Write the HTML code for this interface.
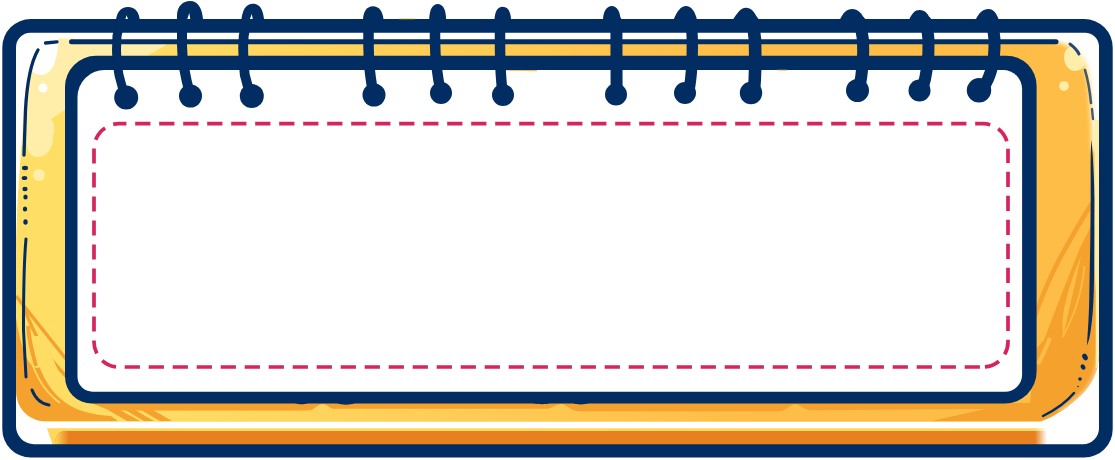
<!DOCTYPE html>
<html><head><meta charset="utf-8"><title>Notepad frame</title>
<style>
html,body{margin:0;padding:0;background:#fff;}
body{width:1115px;height:460px;overflow:hidden;font-family:"Liberation Sans",sans-serif;}
svg{display:block}
</style></head><body>
<svg width="1115" height="460" viewBox="0 0 1115 460">
<defs>
<linearGradient id="gBody" gradientUnits="userSpaceOnUse" x1="120" y1="0" x2="760" y2="0">
<stop offset="0" stop-color="#ffde66"/><stop offset="1" stop-color="#febd47"/>
</linearGradient>
<linearGradient id="gBarStart" gradientUnits="userSpaceOnUse" x1="55" y1="0" x2="69" y2="0">
<stop offset="0" stop-color="#ffd75c"/><stop offset="1" stop-color="#e8801e"/>
</linearGradient>
<linearGradient id="gBarEnd" gradientUnits="userSpaceOnUse" x1="1035" y1="0" x2="1047" y2="0">
<stop offset="0" stop-color="#fff" stop-opacity="0"/><stop offset="1" stop-color="#fff" stop-opacity="1"/>
</linearGradient>
<filter id="blur2" x="-20%" y="-20%" width="140%" height="140%"><feGaussianBlur stdDeviation="2.2"/></filter>
<clipPath id="cBody"><path d="M30,33 L1085,33 Q1099,33 1099,47 L1099,355 C1098,372 1092,384 1082,394 C1070,406 1056,416 1040,421.7 L46,421.7 C28,420.7 16,408 16,390 L16,47 Q16,33 30,33 Z"/></clipPath>
</defs>
<rect width="1115" height="460" fill="#fff"/>
<!-- body -->
<g clip-path="url(#cBody)">
<rect x="10" y="30" width="1095" height="395" fill="url(#gBody)"/>
<!-- light yellow top-left -->
<path d="M16,33 L175,33 L166,45 L147,56 L120,80 L80,109 L66,109 L51,119 C55,124 55,130 53,136 C54,148 46,157 38,157 C31,157 27,151 26.5,142 L21,146 L16,160 Z" fill="#ffeeaa"/>
<path d="M16,33 L58,33 C59,42 58,52 56,58 C54,68 48,75 41,75 C36,75 33,72 31,69 L27,80 L24,105 L21,150 L17.5,200 L16,240 Z" fill="#fff"/>
<circle cx="43" cy="88" r="4.5" fill="#fff"/>
<circle cx="39" cy="175" r="6" fill="#ffeeaa"/>
<!-- white top strip -->
<rect x="16" y="30" width="60" height="8.4" fill="#fff"/><rect x="75" y="30" width="1031" height="11" fill="#fff"/>
<!-- bottom orange band under paper -->
<path d="M60,403 H1040 V409 L985,409 L812,410.2 L795,410.5 L780,411.3 L580,411.3 L561,410 L545,408.8 L337,408.8 L322.5,409.5 L305,410.6 L60,410.6 Z" fill="#f5a12e"/>
<path d="M305,411.5 C314,411 318,404 322.5,404 C327,404 329,409 337,409.5 L337,412 L305,412 Z M543,409.5 C552,409 557,404 561,404 C566,404 570,411 580,411.5 L580,412 L543,412 Z M778,411.5 C787,411 791,404 795,404 C800,404 803,410 812,410.5 L812,412 L778,412 Z" fill="url(#gBody)"/>
<!-- bottom-left orange swoosh -->
<path d="M16,318 C18,330 20,340 24,352 C27,360 31,366 36,368 L46,366 L52,375 L58,386 L66,396 L66,404 L100,404 L104,411 L118,421 L16,421 Z" fill="#f5a12e"/>
<path d="M16,296 L66,359" fill="none" stroke="#f5a12e" stroke-width="3.5"/>
<path d="M25,310 C34,335 48,358 66,376" fill="none" stroke="#f5a12e" stroke-width="3.5"/>
<path d="M28,326 C29,340 32,352 36,366" fill="none" stroke="#f5a12e" stroke-width="4"/>
<path d="M33,336 L46,336 C51,355 57,370 65,382 C73,393 86,401 101,407 L124,416 C110,417 94,415 79,410 C61,403 49,389 41,371 C37,360 35,350 33,336 Z" fill="#ffdc63"/>
<path d="M27,345 C32,370 42,390 60,403" fill="none" stroke="#ffd75c" stroke-width="1.8"/>
<path d="M108,410 L120,410 L140,421 L127,421 Z M125,410 L135,410 L154,421 L144,421 Z M141,410 L153,410 L172,421 L160,421 Z" fill="#f5a12e"/>
<!-- right side orange swoosh -->
<path d="M1091,226 L1080,248 L1060,298 L1044,340 L1035,350 L1030,404 L1010,405 L985,409 L932,421 L1099,421 L1099,226 Z" fill="#f5a12e"/>
<path d="M1092,203 C1080,222 1070,240 1060,258 C1051,275 1045,288 1034,318" fill="none" stroke="#f5a12e" stroke-width="4.6"/>
<path d="M1081,256 C1078,272 1073,292 1063.5,335 C1060,320 1066,292 1081,256 Z" fill="#febd47"/>
<path d="M1084.5,266 C1082,292 1075,315 1062.5,337" fill="none" stroke="#febd47" stroke-width="1.8"/>
<path d="M1050,338 C1046,348 1042,357 1038,364" fill="none" stroke="#febd47" stroke-width="4"/>

<!-- right top highlights -->
<path d="M1066,50 C1070,45 1080,46 1084,54 C1087,62 1084,71 1075,71 C1066,71 1061,58 1066,50 Z" fill="#ffeeaa"/>
<circle cx="1064" cy="86" r="4.8" fill="#ffeeaa"/>
<path d="M1056,28 L1104,28 L1104,150 L1091,150 C1090,120 1089,95 1086,78 C1083,60 1076,47 1056,43 Z" fill="#ffeeaa" opacity="0.8" filter="url(#blur2)"/>
<path d="M1052,28 L1104,28 L1104,152 L1094.5,152 C1093.5,120 1092.5,95 1089.5,75 C1086.5,55 1076,43 1052,40 Z" fill="#fff" filter="url(#blur2)"/>
<path d="M1100,352 C1099,372 1093,385 1083,395 C1076,402 1068,408 1060,413" fill="none" stroke="#fff" stroke-width="5" opacity="0.55" filter="url(#blur2)"/>
<path d="M1094.5,120 L1094.5,270 L1095.7,292 L1095.7,368 L1099.2,368 L1099.2,120 Z" fill="#ffeeaa"/>
</g>
<!-- thin line -->
<path d="M71.5,41.7 L1056,41.7" stroke="#012d62" stroke-width="5" stroke-linecap="round" fill="none"/>
<path d="M45.5,43 L57,41.8" stroke="#012d62" stroke-width="3.3" stroke-linecap="round" fill="none"/>
<path d="M38,50 C31,62 27,82 25.5,110 L24,155" stroke="#012d62" stroke-width="3.3" stroke-linecap="round" fill="none"/>
<path d="M26,239 C24,260 23.5,300 23.5,330 L26,377" stroke="#012d62" stroke-width="3" stroke-linecap="round" fill="none"/>
<path d="M32,390 C36,400 42,404 49,405" stroke="#012d62" stroke-width="3" stroke-linecap="round" fill="none"/>
<g fill="#012d62">
<ellipse cx="25" cy="168" rx="3" ry="2.2"/><ellipse cx="24.5" cy="178" rx="2.8" ry="2"/><ellipse cx="25" cy="189" rx="2.6" ry="2.2"/><ellipse cx="25.5" cy="197" rx="2.2" ry="2.6"/><ellipse cx="25" cy="209" rx="2.2" ry="2.6"/><ellipse cx="25.5" cy="222" rx="2.2" ry="2.8"/>
</g>
<!-- right thin line -->
<path d="M1070,44 C1074,47 1077,50 1079,54" stroke="#012d62" stroke-width="3" stroke-linecap="round" fill="none" opacity="0.85"/>
<path d="M1085,70 C1088,80 1090,92 1091,103" stroke="#012d62" stroke-width="2.6" stroke-linecap="round" fill="none" opacity="0.75"/>
<path d="M1092,109 L1093,119" stroke="#012d62" stroke-width="2.4" stroke-linecap="round" fill="none" opacity="0.75"/>
<path d="M1091.5,140 C1092.6,150 1094.4,180 1094.4,198 L1094.2,270 L1093.8,290 C1093.4,305 1092.6,318 1090.5,332 C1089.5,338 1088.5,342 1086.9,345.5 C1087.6,335 1089.2,315 1089.4,290 L1090.3,240 L1090.7,198 C1090.6,170 1090.5,150 1091.5,140 Z" fill="#012d62"/>
<g fill="#012d62"><ellipse cx="1085" cy="357" rx="2.5" ry="3.5" transform="rotate(-30 1085 357)"/><ellipse cx="1083" cy="367" rx="2.2" ry="2.8" transform="rotate(-30 1083 367)"/><circle cx="1080" cy="379" r="1.8"/><circle cx="1078" cy="386.5" r="0.8"/></g>
<path d="M1074,393 C1065,404 1055,410 1043,416" stroke="#012d62" stroke-width="2.5" stroke-linecap="round" fill="none"/>
<!-- bottom bar -->
<path d="M47,428.2 L1047,428.2 L1047,446 L53,446 Z" fill="#ffd75c"/>
<path d="M66,431 L1047,431 L1047,446 L55,446 C55,436 58,431 66,431 Z" fill="#e8801e"/><path d="M66,431 L76,431 L76,446 L55,446 C55,436 58,431 66,431 Z" fill="url(#gBarStart)"/>
<rect x="1035" y="426" width="14" height="20" fill="url(#gBarEnd)"/>
<rect x="1047" y="426" width="50" height="20" fill="#fff"/>
<!-- paper -->
<path d="M96,55.8 H1006.5999999999999 A30,30 0 0 1 1036.6,85.8 V371.6 A32,32 0 0 1 1004.5999999999999,403.6 H92 A27,27 0 0 1 65,376.6 V86.8 A31,31 0 0 1 96,55.8 Z" fill="#012d62"/>
<path d="M104.5,70 H1003.1 A19,19 0 0 1 1022.1,89 V374.7 A17,17 0 0 1 1005.1,391.7 H92.5 A15,15 0 0 1 77.5,376.7 V97 A27,27 0 0 1 104.5,70 Z" fill="#fff"/>
<path d="M295,403 C299,404.8 304,404.8 308,403 Z M337,403 C342,405.3 350,405.3 355,403 Z M533,403 C538,404.6 546,404.6 550,403 Z M573,403 C577,405 585,404.8 589,403 Z" fill="#012d62"/>
<!-- dashed -->
<g fill="none" stroke="#d6245c" stroke-width="3.7" stroke-dasharray="15.2 8.8">
<path d="M119,123.7 H983 A25,25 0 0 1 1008,148.7" stroke-dashoffset="7.8"/>
<path d="M1008,148.7 V342 A25,25 0 0 1 983,367" stroke-dashoffset="0.9"/>
<path d="M983,367 H119 A25,25 0 0 1 94,342" stroke-dashoffset="20.9"/>
<path d="M94,342 V148.7 A25,25 0 0 1 119,123.7" stroke-dashoffset="13.6"/>
</g>
<!-- frame -->
<path fill-rule="evenodd" fill="#012d62" d="M30.8,19 H1084.2 A28.5,28.5 0 0 1 1112.7,47.5 V429 A28.5,28.5 0 0 1 1084.2,457.5 H30.8 A28.5,28.5 0 0 1 2.3,429 V47.5 A28.5,28.5 0 0 1 30.8,19 Z M30.5,32.7 A14.5,14.5 0 0 0 16,47.2 V426.2 A18,18 0 0 0 34,444.2 H1083 A16,16 0 0 0 1099,428.2 V46.7 A14,14 0 0 0 1085,32.7 Z"/>
<rect x="399" y="18.2" width="16" height="1" fill="#ffd75c"/>
<path d="M495,70 L537,70 L537,71.2 L495,70.5 Z M777,69.8 L787,69.8 L787,70.8 L777,70.5 Z" fill="#fdc04a"/>
<!-- rings -->
<path d="M126,97 C123,90 121,84 119,75 C117.5,68 116.3,60 116.5,50 L117,36 L120,22" fill="none" stroke="#012d62" stroke-width="9" stroke-linecap="round" stroke-linejoin="round"/>
<circle cx="126.2" cy="97.6" r="12" fill="#012d62"/>
<path d="M115.6,24 C116,12 121,7 128,7 C135,7 139.6,12 140,22 L140,30 L115,30 Z M125.2,19.8 L126.6,15.2 L128.2,19.8 Z" fill="#012d62" fill-rule="evenodd"/>
<path d="M190.5,96 C186,80 182,62 182,45 L182,22" fill="none" stroke="#012d62" stroke-width="10" stroke-linecap="round" stroke-linejoin="round"/>
<circle cx="190.5" cy="96" r="11.5" fill="#012d62"/>
<path d="M177,26 L177,15 C177.5,6 183,1 190,1 C198,1 202,8 203,19 L204,30 L177,30 Z M187.2,19.2 L189.3,13 L190.3,19.2 Z" fill="#012d62" fill-rule="evenodd"/>
<path d="M252,96 C248,88 245.8,80 244.8,75 C243.6,65 243,56 243.2,45 L243.7,36 L246.5,22" fill="none" stroke="#012d62" stroke-width="9.8" stroke-linecap="round" stroke-linejoin="round"/>
<circle cx="251.8" cy="96" r="12" fill="#012d62"/>
<path d="M241.2,24 C241.5,10 246,3.8 253,3.8 C260,3.8 263,10 264,19 L264.5,30 L241,30 Z M249.8,19.2 L251.8,14 L252.8,19.2 Z" fill="#012d62" fill-rule="evenodd"/>
<path d="M374,95 C370,80 368.5,60 368.5,40 L368.5,22" fill="none" stroke="#012d62" stroke-width="10.5" stroke-linecap="round" stroke-linejoin="round"/>
<circle cx="374" cy="95" r="11.5" fill="#012d62"/>
<path d="M363,30 L363,19 C363.5,11 367,6.2 373,6.2 C379,6.2 382.5,11 383.5,19 L383.5,30 Z" fill="#012d62" fill-rule="evenodd"/>
<path d="M441,93 C437,75 435,60 435,40 L435,22" fill="none" stroke="#012d62" stroke-width="10.5" stroke-linecap="round" stroke-linejoin="round"/>
<circle cx="441" cy="93" r="11" fill="#012d62"/>
<path d="M429,30 L429.3,17 C430,9 433,4 437.7,4 C442.5,4 445.5,9 446,17 L446.3,30 Z" fill="#012d62" fill-rule="evenodd"/>
<path d="M503,95 C500.5,80 500,60 500,40 L500,22" fill="none" stroke="#012d62" stroke-width="10.5" stroke-linecap="round" stroke-linejoin="round"/>
<circle cx="503" cy="95" r="11" fill="#012d62"/>
<path d="M494,30 L494.5,19 C495,11 498,6.8 502.7,6.8 C507.5,6.8 510.5,11 511,19 L511.3,30 Z" fill="#012d62" fill-rule="evenodd"/>
<path d="M616.6,94 L616.4,22" fill="none" stroke="#012d62" stroke-width="12" stroke-linecap="round" stroke-linejoin="round"/>
<circle cx="616" cy="94.5" r="11" fill="#012d62"/>
<path d="M603,30 L603,19 C603.5,11 607,6 611.8,6 C616.5,6 620,11 620.6,19 L621.5,30 Z" fill="#012d62" fill-rule="evenodd"/>
<path d="M689,90 C692,75 692.5,60 692.3,40 L691.5,22" fill="none" stroke="#012d62" stroke-width="11.3" stroke-linecap="round" stroke-linejoin="round"/>
<circle cx="685" cy="93" r="11" fill="#012d62"/>
<path d="M673,30 L673.5,20 C677,11 681,6 686,6 C691,6 695,11 697,20 L697.5,30 Z" fill="#012d62" fill-rule="evenodd"/>
<path d="M754,90 C755.5,75 755.5,60 755,40 L754.5,36 L753,22" fill="none" stroke="#012d62" stroke-width="12.6" stroke-linecap="round" stroke-linejoin="round"/>
<circle cx="751" cy="93" r="11.2" fill="#012d62"/>
<path d="M732,30 L733,19.5 C738,12 741,7.8 746,7.8 C751,7.8 754,11 758,19.5 L759.5,30 Z" fill="#012d62" fill-rule="evenodd"/>
<path d="M859,90 C862,75 864,60 863,40 C862,33 861,28 860,22" fill="none" stroke="#012d62" stroke-width="12" stroke-linecap="round" stroke-linejoin="round"/>
<circle cx="857.5" cy="90.5" r="11.5" fill="#012d62"/>
<path d="M839,30 L839.7,20 C843,12.5 847,8.9 852,8.9 C858,8.9 862,13 864.7,20 L866,30 Z" fill="#012d62" fill-rule="evenodd"/>
<path d="M922,90 C927,75 929,60 928.5,40 C928,33 927,28 926,22" fill="none" stroke="#012d62" stroke-width="12" stroke-linecap="round" stroke-linejoin="round"/>
<circle cx="919.5" cy="90.5" r="11" fill="#012d62"/>
<path d="M908,30 L908.7,20.5 C912,13 915,10 919.5,10 C925,10 928.5,14 930.5,20.5 L932,30 Z" fill="#012d62" fill-rule="evenodd"/>
<path d="M983,88 C992,75 995,60 994.5,40 C994,33 993,28 992,22" fill="none" stroke="#012d62" stroke-width="12" stroke-linecap="round" stroke-linejoin="round"/>
<circle cx="979" cy="90.3" r="12.2" fill="#012d62"/>
<path d="M975,30 L975.4,20 C979,12.5 983,8.9 988.5,8.9 C993.5,8.9 996.5,13 998.8,20 L1000,30 Z" fill="#012d62" fill-rule="evenodd"/>

</svg>
</body></html>
